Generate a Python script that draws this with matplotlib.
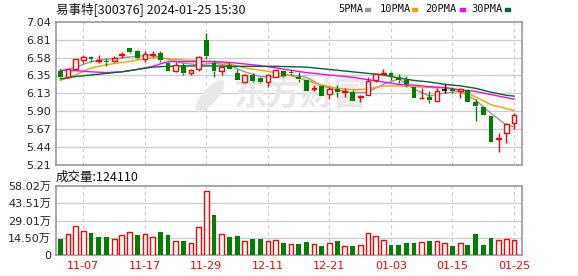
import numpy as np
import matplotlib
matplotlib.use('Agg')
import matplotlib.pyplot as plt
from matplotlib.patches import Rectangle, Ellipse

plt.rcParams['font.family'] = ['DejaVu Sans', 'Noto Sans CJK SC']

# daily candles (11-02 .. 01-25)
opens = [6.41, 6.33, 6.435, 6.55, 6.59, 6.54, 6.54, 6.54, 6.61, 6.70,
         6.66, 6.57, 6.61, 6.64, 6.51, 6.41, 6.49, 6.38, 6.44, 6.81,
         6.51, 6.41, 6.49, 6.39, 6.27, 6.36, 6.32, 6.27, 6.34, 6.41,
         6.40, 6.34, 6.29, 6.18, 6.22, 6.12, 6.18, 6.14, 6.14, 6.08,
         6.11, 6.30, 6.37, 6.38, 6.34, 6.30, 6.20, 6.065, 6.08, 6.03,
         6.17, 6.18, 6.15, 6.17, 6.02, 5.95, 5.83, 5.54, 5.62, 5.75]
closes = [6.33, 6.43, 6.57, 6.59, 6.56, 6.55, 6.53, 6.58, 6.63, 6.65,
          6.58, 6.63, 6.63, 6.55, 6.41, 6.49, 6.39, 6.42, 6.59, 6.60,
          6.41, 6.46, 6.44, 6.29, 6.36, 6.28, 6.27, 6.36, 6.42, 6.35,
          6.39, 6.31, 6.16, 6.19, 6.09, 6.18, 6.14, 6.15, 6.03, 6.09,
          6.28, 6.37, 6.38, 6.34, 6.29, 6.25, 6.07, 6.07, 6.04, 6.16,
          6.17, 6.15, 6.18, 6.02, 5.96, 5.85, 5.51, 5.55, 5.73, 5.85]
highs = [6.44, 6.44, 6.57, 6.61, 6.60, 6.61, 6.58, 6.60, 6.65, 6.71,
         6.68, 6.66, 6.66, 6.66, 6.53, 6.53, 6.51, 6.44, 6.60, 6.90,
         6.55, 6.49, 6.52, 6.43, 6.37, 6.39, 6.34, 6.37, 6.42, 6.42,
         6.42, 6.40, 6.30, 6.23, 6.23, 6.20, 6.23, 6.19, 6.17, 6.10,
         6.33, 6.39, 6.43, 6.40, 6.37, 6.35, 6.20, 6.19, 6.15, 6.19,
         6.25, 6.21, 6.19, 6.18, 6.05, 5.96, 5.84, 5.62, 5.75, 5.88]
lows = [6.32, 6.32, 6.43, 6.51, 6.52, 6.51, 6.47, 6.53, 6.58, 6.64,
        6.56, 6.53, 6.59, 6.53, 6.41, 6.40, 6.36, 6.36, 6.41, 6.57,
        6.33, 6.36, 6.43, 6.29, 6.26, 6.27, 6.26, 6.20, 6.33, 6.34,
        6.36, 6.27, 6.15, 6.15, 6.09, 6.05, 6.08, 6.08, 6.03, 6.02,
        6.10, 6.27, 6.37, 6.30, 6.26, 6.20, 6.06, 6.05, 6.00, 6.03,
        6.13, 6.13, 6.06, 6.02, 5.77, 5.85, 5.50, 5.37, 5.49, 5.67]

# volume in 万 shares, and whether the bar is drawn red (up) or green (down)
volumes = [13.4, 17.8, 24.3, 20.4, 18.7, 15.3, 15.3, 13.7, 16.7, 19.2,
           17.0, 17.8, 15.3, 19.5, 17.0, 12.0, 12.0, 10.0, 23.7, 53.8,
           33.7, 17.8, 15.3, 16.2, 12.0, 13.7, 13.7, 12.0, 12.8, 10.3,
           9.5, 9.5, 11.2, 9.5, 7.8, 10.3, 12.0, 7.8, 7.8, 8.6,
           18.7, 16.2, 12.8, 8.6, 8.6, 10.3, 10.3, 11.2, 12.0, 12.0,
           10.3, 7.8, 10.3, 8.6, 17.8, 8.6, 14.5, 12.8, 13.7, 12.41]
vol_up = [0, 1, 1, 1, 0, 0, 0, 1, 1, 1,
          0, 1, 1, 0, 0, 1, 0, 1, 1, 1,
          0, 1, 0, 0, 1, 0, 0, 1, 1, 0,
          1, 0, 0, 1, 0, 1, 0, 1, 0, 1,
          1, 1, 1, 0, 0, 0, 0, 1, 0, 1,
          1, 0, 1, 0, 0, 0, 0, 1, 1, 1]

# moving averages
ma_idx = [0, 2, 4, 6, 8, 10, 12, 14, 16, 18, 20, 22, 24, 26, 28, 30,
          32, 34, 36, 38, 40, 42, 44, 46, 48, 50, 52, 54, 56, 58, 59]
ma5 = [6.41, 6.46, 6.53, 6.56, 6.58, 6.60, 6.61, 6.56, 6.51, 6.49, 6.51,
       6.48, 6.40, 6.34, 6.33, 6.36, 6.33, 6.22, 6.17, 6.13, 6.14, 6.24,
       6.31, 6.18, 6.09, 6.13, 6.15, 6.04, 5.87, 5.72, 5.70]
ma10 = [6.29, 6.36, 6.45, 6.49, 6.52, 6.55, 6.58, 6.57, 6.55, 6.54, 6.53,
        6.50, 6.45, 6.42, 6.39, 6.35, 6.29, 6.23, 6.19, 6.17, 6.18, 6.22,
        6.22, 6.21, 6.20, 6.19, 6.16, 6.08, 5.98, 5.93, 5.905]
ma20 = [6.42, 6.415, 6.40, 6.39, 6.40, 6.43, 6.47, 6.53, 6.53, 6.53, 6.53,
        6.52, 6.50, 6.48, 6.45, 6.42, 6.39, 6.37, 6.35, 6.33, 6.30, 6.27,
        6.24, 6.23, 6.21, 6.20, 6.17, 6.15, 6.11, 6.07, 6.05]
ma30 = [6.31, 6.34, 6.36, 6.38, 6.40, 6.43, 6.46, 6.47, 6.475, 6.475, 6.475,
        6.47, 6.47, 6.47, 6.47, 6.465, 6.46, 6.44, 6.42, 6.40, 6.38, 6.36,
        6.32, 6.29, 6.27, 6.24, 6.22, 6.19, 6.14, 6.10, 6.09]

date_idx = [3, 11, 19, 27, 35, 43, 51, 59]
date_labels = ['11-07', '11-17', '11-29', '12-11', '12-21', '01-03', '01-15', '01-25']
price_labels = ['5.21', '5.44', '5.67', '5.90', '6.13', '6.35', '6.58', '6.81', '7.04']
vol_labels = ['0', '14.50万', '29.01万', '43.51万', '58.02万']

RED = '#ff0000'
GREEN = '#008000'
W, H = 578, 276

fig = plt.figure(figsize=(W / 100, H / 100), dpi=100)
ax = fig.add_axes([56 / W, 1 - 165 / H, 466 / W, 143.3 / H])
axv = fig.add_axes([56 / W, 1 - 255.3 / H, 466 / W, 69.3 / H])

x = np.arange(len(closes))

for a in (ax, axv):
    a.set_xlim(-0.56, 60.04)
    for s in a.spines.values():
        s.set_color('#999999')
        s.set_linewidth(1.2)
    a.set_xticks(date_idx)
    a.tick_params(length=0)
    for xi in date_idx:
        a.axvline(xi, color='#cccccc', lw=0.8, ls=(0, (3, 3)), zorder=0)

# price panel
ax.set_ylim(5.21, 7.04)
pticks = np.linspace(5.21, 7.04, len(price_labels))
ax.set_yticks(pticks)
ax.set_yticklabels(price_labels, fontsize=8, color='#222222')
ax.set_xticklabels([])
for yv in pticks[1:-1]:
    ax.axhline(yv, color='#cccccc', lw=0.9, zorder=0)

# watermark, kept behind the candles
ax.text(300 / W, 1 - 96 / H, '东方财富', transform=fig.transFigure, fontsize=24,
        family=['Noto Sans CJK SC'], fontweight='bold', color='#e8e8e8',
        ha='center', va='center', zorder=1)
ax.add_patch(Ellipse((210 / W, 1 - 96 / H), 16 / W, 32 / H, angle=-20,
                     transform=fig.transFigure, color='#e8e8e8', zorder=1,
                     clip_on=False))

ax.plot(ma_idx, ma5, color='#999999', lw=1.0, zorder=2)
ax.plot(ma_idx, ma10, color='#f5a000', lw=1.0, zorder=2)
ax.plot(ma_idx, ma20, color='#ff00ff', lw=1.0, zorder=2)
ax.plot(ma_idx, ma30, color='#006633', lw=1.0, zorder=2)

bw = 0.62
for i in x:
    o, c, h, l = opens[i], closes[i], highs[i], lows[i]
    if c > o:
        col = RED
    elif c < o:
        col = GREEN
    else:
        col = '#000000'
    top, bot = max(o, c), min(o, c)
    ax.vlines(i, top, h, color=col, lw=1.0, zorder=3)
    ax.vlines(i, l, bot, color=col, lw=1.0, zorder=3)
    if c > o:
        ax.bar(i, top - bot, bottom=bot, width=bw, facecolor='white',
               edgecolor=col, lw=1.0, zorder=4)
    elif c < o:
        ax.bar(i, top - bot, bottom=bot, width=bw, color=col, lw=0, zorder=4)
    else:
        ax.hlines(c, i - bw / 2, i + bw / 2, color=col, lw=1.2, zorder=4)

# volume panel
axv.set_ylim(0, 58.02)
vticks = np.linspace(0, 58.02, len(vol_labels))
axv.set_yticks(vticks)
axv.set_yticklabels(vol_labels, fontsize=8, color='#222222',
                    family=['DejaVu Sans', 'Noto Sans CJK SC'])
for yv in vticks[1:-1]:
    axv.axhline(yv, color='#cccccc', lw=0.9, zorder=0)
for i in x:
    if vol_up[i]:
        axv.bar(i, volumes[i], width=bw, facecolor='white', edgecolor=RED,
                lw=1.0, zorder=3)
    else:
        axv.bar(i, volumes[i], width=bw, color=GREEN, lw=0, zorder=3)
axv.set_xticklabels(date_labels, fontsize=8, color=RED)
axv.tick_params(axis='x', pad=4)

# header texts
fig.text(56 / W, 1 - 9 / H, '易事特[300376] 2024-01-25 15:30', fontsize=9,
         family=['Noto Sans CJK SC'], color='#111111', va='center', ha='left')
fig.text(56 / W, 1 - 177 / H, '成交量:124110', fontsize=9,
         family=['Noto Sans CJK SC'], color='#111111', va='center', ha='left')

legend = [('5PMA', 338, 365, '#999999'), ('10PMA', 380, 412, '#f5a000'),
          ('20PMA', 425, 460, '#ff00ff'), ('30PMA', 471, 505, '#006633')]
for name, tx, dx, col in legend:
    fig.text(tx / W, 1 - 9 / H, name, fontsize=7.5, family='DejaVu Sans Mono',
             color='#111111', va='center', ha='left')
    fig.patches.append(Rectangle((dx / W, 1 - 10.5 / H), 5 / W, 2.5 / H,
                                 transform=fig.transFigure, color=col))

fig.savefig('out.png', dpi=100)
